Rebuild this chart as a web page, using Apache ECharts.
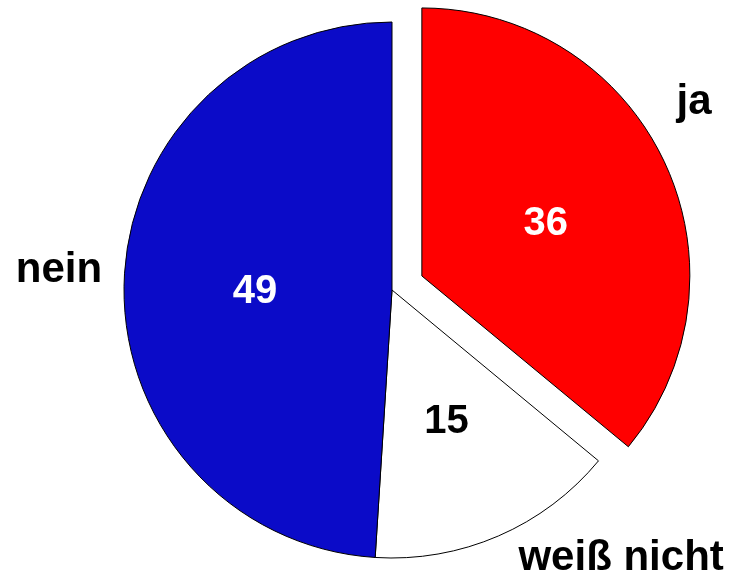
<!DOCTYPE html>
<html>
<head>
<meta charset="utf-8">
<script src="https://cdn.jsdelivr.net/npm/echarts@6/dist/echarts.min.js"></script>
<style>
  html, body { margin: 0; padding: 0; background: #fff; }
  #main { width: 730px; height: 580px; }
</style>
</head>
<body>
<div id="main"></div>
<script>
var categories = ["ja", "weiß nicht", "nein"];
var values = [36, 15, 49];
var colors = ["#ff0000", "#ffffff", "#0b0bc8"];
var valueColors = ["#ffffff", "#000000", "#ffffff"];

// shift of the outside name labels, per slice
var nameShift = [[37, -73], [15, 22], [-17, -11]];

var myChart = echarts.init(document.getElementById("main"));

var pieData = [];
var nameData = [];
for (var i = 0; i < categories.length; i++) {
  pieData.push({
    name: categories[i],
    value: values[i],
    selected: i === 0,
    itemStyle: { color: colors[i] },
    label: { color: valueColors[i] }
  });
  nameData.push({ name: categories[i], value: values[i] });
}

var fontFamily = "Liberation Sans, Arial, sans-serif";

var option = {
  backgroundColor: "#fff",
  animation: false,
  series: [
    {
      type: "pie",
      center: [392, 290],
      radius: 268,
      startAngle: 90,
      clockwise: true,
      selectedMode: "single",
      selectedOffset: 33,
      avoidLabelOverlap: false,
      itemStyle: { borderColor: "#000", borderWidth: 1 },
      emphasis: { disabled: true },
      label: { show: true, position: "inside", formatter: "{c}", fontFamily: fontFamily, fontWeight: "bold", fontSize: 40 },
      labelLine: { show: false },
      labelLayout: { dy: 6 },
      data: pieData
    },
    {
      // invisible copy, only carries the category names outside
      type: "pie",
      center: [392, 290],
      radius: 268,
      startAngle: 90,
      clockwise: true,
      silent: true,
      avoidLabelOverlap: false,
      itemStyle: { color: "transparent", borderWidth: 0 },
      label: { show: true, position: "outside", formatter: "{b}", color: "#000", fontFamily: fontFamily, fontWeight: "bold", fontSize: 42 },
      labelLine: { show: false, length: 0, length2: 0 },
      labelLayout: function (p) {
        return { dx: nameShift[p.dataIndex][0], dy: nameShift[p.dataIndex][1] };
      },
      data: nameData
    }
  ]
};

myChart.setOption(option);
</script>
</body>
</html>
